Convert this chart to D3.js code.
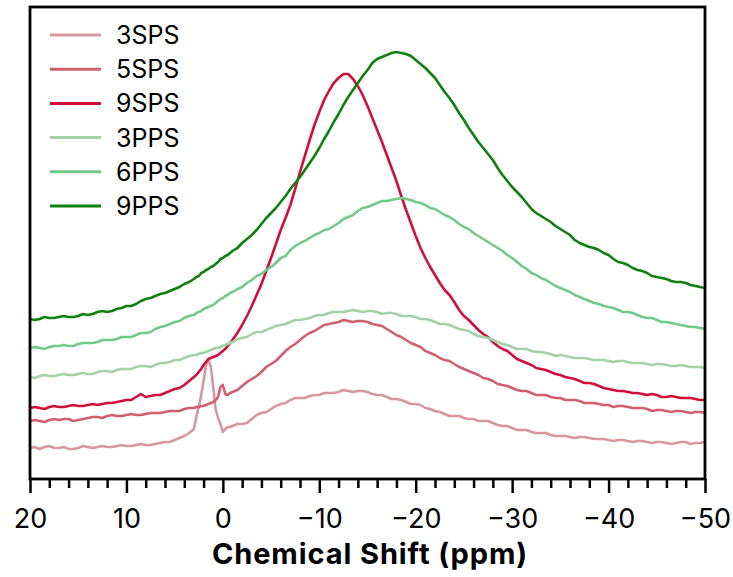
<!DOCTYPE html>
<html>
<head>
<meta charset="utf-8">
<script src="https://cdn.jsdelivr.net/npm/d3@7"></script>
<style>
  html, body { margin: 0; padding: 0; background: #fff; }
  svg { display: block; font-family: Inter, "Noto Sans", sans-serif; }
</style>
</head>
<body>
<svg id="chart" width="733" height="577"></svg>
<script>
// Chemical shift grid (ppm), finer around the sharp resonance near 1.5 ppm
const shift = [
  20,19.5,19,18.5,18,17.5,17,16.5,16,15.5,15,14.5,14,13.5,13,12.5,12,11.5,11,10.5,
  10,9.5,9,8.5,8,7.5,7,6.5,6,5.5,5,4.5,4,3.5,
  3,2.75,2.5,2.25,2,1.75,1.5,1.25,1,0.75,0.5,0.25,0,-0.25,-0.5,-0.75,-1,
  -1.5,-2,-2.5,-3,-3.5,-4,-4.5,-5,-5.5,-6,-6.5,-7,-7.5,-8,-8.5,-9,-9.5,-10,
  -10.5,-11,-11.5,-12,-12.5,-13,-13.5,-14,-14.5,-15,-15.5,-16,-16.5,-17,-17.5,-18,-18.5,-19,-19.5,-20,
  -20.5,-21,-21.5,-22,-22.5,-23,-23.5,-24,-24.5,-25,-25.5,-26,-26.5,-27,-27.5,-28,-28.5,-29,-29.5,-30,
  -30.5,-31,-31.5,-32,-32.5,-33,-33.5,-34,-34.5,-35,-35.5,-36,-36.5,-37,-37.5,-38,-38.5,-39,-39.5,-40,
  -40.5,-41,-41.5,-42,-42.5,-43,-43.5,-44,-44.5,-45,-45.5,-46,-46.5,-47,-47.5,-48,-48.5,-49,-49.5,-50];

// Stacked intensities (arbitrary units, vertical offsets included)
const sps3 = [
  31,32,30,32,33,31,31,32,30,30,31,33,32,31,32,33,32,32,33,34,33,33,34,35,34,34,35,36,37,37,39,41,43,46,
  50,62,72,84,98,114,120,112,92,70,61,55,47,50,52,52,53,
  55,55,56,60,64,66,67,70,73,75,76,79,81,81,81,83,84,84,86,86,86,87,89,88,87,88,88,87,85,84,
  84,82,80,80,79,77,75,75,74,71,70,68,67,65,63,63,63,61,60,60,58,58,58,56,54,53,53,51,49,49,
  49,47,46,46,46,44,43,43,43,42,41,42,42,41,40,40,40,39,38,39,39,38,37,38,38,37,36,37,37,36,
  35,36,37,37,35,36,36,37];
const sps5 = [
  58,59,58,57,59,60,59,60,60,58,59,60,61,62,62,61,63,64,63,63,64,65,64,64,65,66,66,66,67,68,68,68,70,71,
  71,72,72,73,73,74,75,76,77,79,82,92,94,85,84,86,87,
  89,93,97,100,103,107,112,115,118,123,128,132,135,139,143,146,148,151,154,155,
  156,157,159,158,157,158,158,157,155,154,153,150,147,144,142,139,136,134,132,128,
  126,124,121,119,118,115,112,110,108,106,104,101,100,98,95,94,93,91,89,88,
  88,86,84,84,84,82,81,81,79,79,79,78,76,76,76,75,74,74,72,73,
  73,72,71,71,71,70,68,69,69,68,67,68,68,67,66,67,67,66];
const sps9 = [
  71,72,71,70,72,73,72,72,73,74,73,73,74,75,74,75,76,76,77,78,79,79,82,85,82,83,84,84,86,88,90,91,94,98,
  102,104,107,110,114,117,120,121,122,123,124,126,128,130,133,136,139,
  146,154,163,173,184,195,208,221,235,249,261,274,290,307,323,339,354,367,379,388,
  396,401,405,405,400,393,384,373,361,349,337,324,311,298,283,269,256,243,231,221,
  212,204,196,189,184,177,169,163,159,154,149,145,142,137,133,130,128,124,120,118,
  116,114,111,110,109,107,105,104,102,101,100,98,96,96,95,93,91,90,89,88,
  88,87,86,86,85,84,85,84,82,82,83,82,81,81,81,80,79,79];
const pps3 = [
  102,101,103,104,103,103,104,105,104,104,105,106,105,105,107,108,108,107,109,110,
  110,110,112,113,113,112,114,116,116,117,119,119,121,123,
  124,124,125,126,126,127,128,129,130,131,131,132,133,134,135,136,137,
  140,141,142,145,147,147,149,151,153,154,155,157,159,159,160,161,163,164,164,166,
  167,167,167,168,169,168,167,168,168,167,165,166,166,165,163,163,163,162,160,160,
  159,157,155,155,154,152,150,149,148,145,143,142,141,139,137,135,134,132,130,130,
  130,128,127,127,126,125,123,124,123,122,121,121,121,120,119,119,119,118,117,118,
  118,117,116,116,116,115,114,115,115,114,113,113,114,113,112,112,112,111];
const pps6 = [
  131,132,131,130,132,133,133,134,133,133,135,136,136,136,137,139,139,139,140,142,
  142,142,144,146,146,147,150,152,153,155,157,158,161,163,
  164,166,167,168,170,171,172,173,174,176,178,180,181,183,184,186,187,
  190,192,196,199,203,205,209,212,216,221,223,229,233,236,238,241,244,246,249,250,
  253,256,260,262,264,268,271,272,274,276,278,278,279,280,281,280,279,277,276,274,
  271,270,267,264,262,259,255,252,250,246,243,240,237,234,231,228,224,221,217,213,
  210,206,204,201,199,196,193,191,189,187,184,182,180,178,176,175,173,172,171,169,
  167,167,166,164,162,161,161,159,157,157,156,155,154,153,152,152,151,150];
const pps9 = [
  160,159,160,162,161,161,162,163,162,162,163,165,164,165,167,168,167,168,170,171,
  173,173,175,178,180,181,183,185,186,188,190,192,195,197,
  200,202,203,206,207,209,210,212,213,215,217,220,221,223,224,226,228,
  231,236,240,244,249,255,261,266,271,277,283,290,296,302,309,316,323,331,340,348,
  357,365,374,382,389,396,403,409,416,420,422,424,426,427,426,425,423,419,415,411,
  406,401,394,387,381,374,366,359,351,344,337,331,325,319,311,304,298,292,287,282,
  276,270,266,263,260,257,253,250,247,244,239,236,234,232,231,229,226,224,220,217,
  216,214,211,209,208,206,203,202,201,200,198,197,197,196,194,193,192,191];

const seriesNames = ["3SPS","5SPS","9SPS","3PPS","6PPS","9PPS"];
const seriesValues = [sps3, sps5, sps9, pps3, pps6, pps9];
const seriesColors = ["#d598a1","#d0606f","#d0103a","#a2d2a6","#72c98a","#0f800f"];

const majorTicks = [20,10,0,-10,-20,-30,-40,-50];
const minorTicks = [18,16,14,12,8,6,4,2,-2,-4,-6,-8,-12,-14,-16,-18,-22,-24,-26,-28,
  -32,-34,-36,-38,-42,-44,-46,-48];
const xTitle = "Chemical Shift (ppm)";

seriesValues.forEach((v, i) => {
  if (v.length !== shift.length) throw new Error(seriesNames[i] + " has " + v.length + " values, grid has " + shift.length);
});

const svg = d3.select("#chart");
const plotL = 30, plotR = 705, plotT = 7, plotB = 479;

const x = d3.scaleLinear().domain([20, -50]).range([plotL, plotR]);
const y = d3.scaleLinear().domain([0, 472]).range([plotB, plotT]);

svg.append("defs").append("clipPath").attr("id", "plotClip")
  .append("rect").attr("x", plotL).attr("y", plotT)
  .attr("width", plotR - plotL).attr("height", plotB - plotT);

const line = d3.line()
  .x(d => x(d[0]))
  .y(d => y(d[1]));

const plot = svg.append("g").attr("clip-path", "url(#plotClip)");
seriesValues.forEach((vals, i) => {
  plot.append("path")
    .datum(shift.map((s, k) => [s, vals[k]]))
    .attr("d", line)
    .attr("fill", "none")
    .attr("stroke", seriesColors[i])
    .attr("stroke-width", 2.6)
    .attr("stroke-linejoin", "round");
});

// Minor ticks
svg.append("g")
  .attr("transform", `translate(0,${plotB})`)
  .call(d3.axisBottom(x).tickValues(minorTicks).tickSize(9).tickFormat(""))
  .call(g => g.select(".domain").remove())
  .call(g => g.selectAll(".tick line").attr("stroke", "#000").attr("stroke-width", 2.5));

// Major ticks with labels
const fmt = d => d < 0 ? "\u2212" + Math.abs(d) : String(d);
svg.append("g")
  .attr("transform", `translate(0,${plotB})`)
  .call(d3.axisBottom(x).tickValues(majorTicks).tickSize(14).tickFormat(fmt))
  .call(g => g.select(".domain").remove())
  .call(g => g.selectAll(".tick line").attr("stroke", "#000").attr("stroke-width", 2.5))
  .call(g => g.selectAll(".tick text")
    .attr("y", 49).attr("dy", 0)
    .attr("fill", "#000")
    .style("font-size", "27px")
    .style("font-family", "Inter, 'Noto Sans', sans-serif"));

// Plot frame
svg.append("rect")
  .attr("x", plotL).attr("y", plotT)
  .attr("width", plotR - plotL).attr("height", plotB - plotT)
  .attr("fill", "none").attr("stroke", "#000").attr("stroke-width", 2.8);

// Axis title
svg.append("text")
  .attr("x", 370).attr("y", 564)
  .attr("text-anchor", "middle")
  .style("font-size", "29px").style("font-weight", 700)
  .style("letter-spacing", "0.9px")
  .text(xTitle);

// Legend
const legend = svg.append("g");
seriesNames.forEach((name, i) => {
  const ly = 35 + i * 34.2;
  legend.append("line")
    .attr("x1", 50).attr("x2", 101).attr("y1", ly).attr("y2", ly)
    .attr("stroke", seriesColors[i]).attr("stroke-width", 3);
  legend.append("text")
    .attr("x", 116).attr("y", ly).attr("dy", "0.36em")
    .style("font-size", "25px")
    .text(name);
});
</script>
</body>
</html>
